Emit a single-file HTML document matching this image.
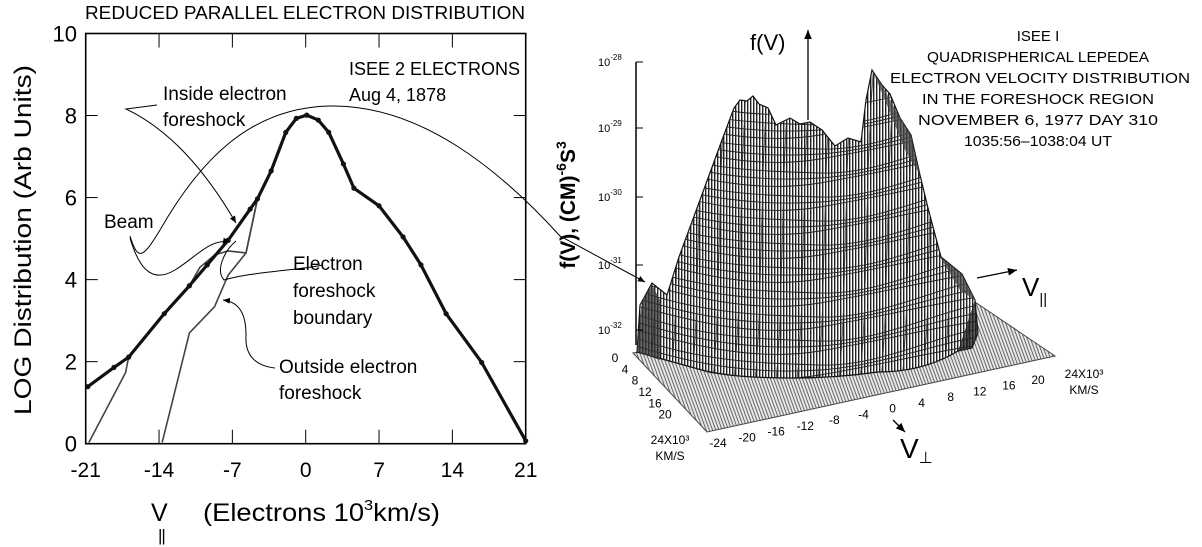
<!DOCTYPE html>
<html><head><meta charset="utf-8">
<style>
html,body{margin:0;padding:0;background:#fff;}
svg{display:block;font-family:"Liberation Sans",sans-serif;}
</style></head>
<body>
<svg id="fig" width="1202" height="547" viewBox="0 0 1202 547">
<defs>
  <pattern id="vlines" width="3" height="6" patternUnits="userSpaceOnUse">
    <rect width="3" height="6" fill="#fff"/><rect width="1.4" height="6" fill="#222"/>
  </pattern>
  <pattern id="plane" width="3" height="3" patternUnits="userSpaceOnUse" patternTransform="rotate(-20)">
    <rect width="3" height="3" fill="#e8e8e8"/><rect width="1" height="3" fill="#666"/>
  </pattern>
  <clipPath id="hillclip"><path id="hillpathc" d=""/></clipPath>
  <marker id="arr" markerWidth="8" markerHeight="8" refX="7" refY="4" orient="auto"><path d="M0,1 L7,4 L0,7 z" fill="#000"/></marker>
</defs>

<!-- LEFT CHART -->
<g id="left">
  <text x="85" y="19" font-size="18" textLength="440" lengthAdjust="spacingAndGlyphs">REDUCED  PARALLEL  ELECTRON  DISTRIBUTION</text>
  <rect x="85.7" y="33.5" width="440" height="410.2" fill="none" stroke="#000" stroke-width="1.6"/>
  <g id="xticks"></g>
  <g id="yticks"></g>
  <text transform="translate(31,240) rotate(-90)" text-anchor="middle" font-size="24" textLength="350" lengthAdjust="spacingAndGlyphs">LOG Distribution (Arb Units)</text>
  <g>
    <text x="151" y="521" font-size="25">V</text>
    <text x="158" y="541" font-size="17" letter-spacing="-1">||</text>
    <text x="203" y="521" font-size="25" textLength="237" lengthAdjust="spacingAndGlyphs">(Electrons 10<tspan font-size="15" dy="-11">3</tspan><tspan dy="11">km/s)</tspan></text>
  </g>
  <g id="series"></g>
  <text x="349" y="75" font-size="18">ISEE 2 ELECTRONS</text>
  <text x="349" y="101" font-size="18">Aug 4, 1878</text>
  <text x="163" y="100" font-size="19">Inside electron</text>
  <text x="163" y="126" font-size="19">foreshock</text>
  <text x="104" y="228" font-size="19">Beam</text>
  <text x="293" y="270" font-size="19">Electron</text>
  <text x="293" y="297" font-size="19">foreshock</text>
  <text x="293" y="324" font-size="19">boundary</text>
  <text x="279" y="373" font-size="19">Outside electron</text>
  <text x="279" y="399" font-size="19">foreshock</text>
  <g fill="none" stroke="#000" stroke-width="1">
    <path d="M157,105 L126,109 C170,130 205,170 236,223" marker-end="url(#arr)"/>
    <path d="M130,238 C138,265 150,285 175,270 C195,258 210,238 230,242" marker-end="url(#arr)"/>
    <path d="M323,265 C300,270 250,272 224,280 C215,270 225,250 236,241"/>
    <path d="M275,368 C250,365 245,350 246,335 C246,315 240,302 223,300" marker-end="url(#arr)"/>
    <path d="M130,236 C138,262 143,258 160,230 C200,160 250,108 329,106 C420,104 500,170 560,236 L645,282" marker-end="url(#arr)"/>
  </g>
</g>

<!-- RIGHT 3D PLOT -->
<g id="right">
  <polygon points="633,353 707,432 1055,356 972,300" fill="url(#plane)" stroke="#444" stroke-width="1"/>
  <g id="hill"></g>
  <line x1="636" y1="62" x2="636" y2="345" stroke="#000" stroke-width="1.5"/>
  <g id="rticks"></g>
  <line x1="808" y1="120" x2="808" y2="30" stroke="#000" stroke-width="1.3" marker-end="url(#arr)"/>
  <text x="750" y="50" font-size="22">f(V)</text>
  <text transform="translate(575,205) rotate(-90)" text-anchor="middle" font-size="21" font-weight="bold">f(V), (CM)<tspan font-size="14" dy="-9">-6</tspan><tspan dy="9">S</tspan><tspan font-size="14" dy="-9">3</tspan></text>
  <g font-size="15" text-anchor="middle">
    <text x="1038" y="41">ISEE I</text>
    <text x="1038" y="62" textLength="222" lengthAdjust="spacingAndGlyphs">QUADRISPHERICAL LEPEDEA</text>
    <text x="1040" y="83" textLength="300" lengthAdjust="spacingAndGlyphs">ELECTRON VELOCITY DISTRIBUTION</text>
    <text x="1038" y="104" textLength="232" lengthAdjust="spacingAndGlyphs">IN THE FORESHOCK REGION</text>
    <text x="1038" y="125" textLength="240" lengthAdjust="spacingAndGlyphs">NOVEMBER 6, 1977  DAY 310</text>
    <text x="1038" y="146" textLength="148" lengthAdjust="spacingAndGlyphs">1035:56–1038:04 UT</text>
  </g>
  <line x1="977" y1="278" x2="1017" y2="270" stroke="#000" stroke-width="1.3" marker-end="url(#arr)"/>
  <text x="1022" y="296" font-size="26">V<tspan font-size="15" dy="8">||</tspan></text>
  <line x1="893" y1="420" x2="905" y2="432" stroke="#000" stroke-width="1.3" marker-end="url(#arr)"/>
  <text x="900" y="458" font-size="28">V<tspan font-size="16" dy="5">⊥</tspan></text>
  <g id="bticks" font-size="12" text-anchor="middle"></g>
</g>

<script>
// ---- Left chart data ----
const xTicks = [-21, -14, -7, 0, 7, 14, 21];
const yTicks = [0, 2, 4, 6, 8, 10];
const insideV = [-20.8,-18.3,-16.9,-13.5,-11.1,-9.4,-7.4,-5.3,-4.6,-3.3,-1.9,-0.9,0.1,1.2,2.2,3.6,4.6,7.0,9.3,11.0,13.4,16.8,21];
const insideL = [1.39,1.86,2.11,3.17,3.85,4.36,4.96,5.72,5.97,6.65,7.59,7.93,8.01,7.89,7.59,6.82,6.23,5.80,5.04,4.36,3.17,1.98,0.07];
const boundaryV = [-20.7,-17.2,-16.9,-13.5,-11.1,-10.1,-8.7,-7.4,-5.7,-4.6];
const boundaryL = [0.03,1.73,2.11,3.17,3.85,4.30,4.60,4.70,4.65,5.97];
const outsideV = [-13.7,-11.1,-8.7,-7.4,-5.7,-4.6];
const outsideL = [0.03,2.70,3.34,4.11,4.65,5.97];
// ---- Right plot axis labels ----
const fvTicks = ["-28","-29","-30","-31","-32"];
const vperpTicks = ["-24","-20","-16","-12","-8","-4","0","4","8","12","16","20"];
const vparTicks = ["0","4","8","12","16","20"];

const NS = "http://www.w3.org/2000/svg";
function mk(tag, attrs, parent){const e=document.createElementNS(NS,tag);for(const k in attrs)e.setAttribute(k,attrs[k]);parent.appendChild(e);return e;}
const X0=85.7,X1=525.7,Y0=443.7,Y1=33.5;
const sx = v => X0 + (v+21)/42*(X1-X0);
const sy = l => Y0 - l/10*(Y0-Y1);

const xg=document.getElementById('xticks');
xTicks.forEach(v=>{
  const l=mk('line',{x1:sx(v),x2:sx(v),y1:Y0,y2:Y0-14,stroke:'#000','stroke-width':1},xg);
  
  
  const l2=mk('line',{x1:sx(v),x2:sx(v),y1:Y1,y2:Y1+14,stroke:'#000','stroke-width':1},xg);
  
  
  const t=mk('text',{x:sx(v),y:477,'font-size':21,'text-anchor':'middle'},xg);
  t.textContent=v;
  
  
});
const yg=document.getElementById('yticks');
yTicks.forEach(v=>{
  const l=mk('line',{x1:X0,x2:X0+12,y1:sy(v),y2:sy(v),stroke:'#000','stroke-width':1},yg);
  
  
  const l2=mk('line',{x1:X1,x2:X1-12,y1:sy(v),y2:sy(v),stroke:'#000','stroke-width':1},yg);
  
  
  const t=mk('text',{x:77,y:sy(v)+8,'font-size':22,'text-anchor':'end'},yg);
  t.textContent=v;
  
  
});
const sg=document.getElementById('series');
function series(vs,ls,w,col,name,dots){
  const p=mk('polyline',{points:vs.map((v,i)=>sx(v)+','+sy(ls[i])).join(' '),fill:'none',stroke:col,'stroke-width':w,'stroke-linejoin':'round'},sg);
  
  
  if(dots) vs.forEach((v,i)=>{
    const c=mk('circle',{cx:sx(v),cy:sy(ls[i]),r:2.6,fill:'#111'},sg);
    
    
  });
}
series(boundaryV,boundaryL,1.6,'#444','boundary-line',false);
series(outsideV,outsideL,1.6,'#444','outside-foreshock-line',false);
series(insideV,insideL,3.2,'#111','inside-foreshock-line',true);

// ---- Right: axis ticks ----
const rt=document.getElementById('rticks');
const fvY=[62,128,197,265,330];
fvTicks.forEach((s,i)=>{
  const l=mk('line',{x1:636,x2:643,y1:fvY[i],y2:fvY[i],stroke:'#000'},rt);
  
  
  const t=mk('text',{x:598,y:fvY[i]+4,'font-size':11},rt);
  
  
  const a=mk('tspan',{},t); a.textContent='10';
  const b=mk('tspan',{'font-size':8,dy:-6},t); b.textContent=s;
});
const bt=document.getElementById('bticks');
vperpTicks.forEach((s,i)=>{
  const f=i/11;
  const t=mk('text',{x:718+f*(1038-718),y:447-f*(447-384),'font-size':12},bt);
  t.textContent=s;
  
  
});
vparTicks.forEach((s,i)=>{
  const f=i/6;
  const t=mk('text',{x:615+f*(675-615),y:362+f*(430-362),'font-size':12},bt);
  t.textContent=s;
  
  
});
[[670,444,'24X10³'],[670,460,'KM/S'],[1084,378,'24X10³'],[1084,394,'KM/S']].forEach(a=>{
  const t=mk('text',{x:a[0],y:a[1],'font-size':12},bt);
  t.textContent=a[2];
  
  
});

// ---- Right: surface (decorative outline) ----
const hill=document.getElementById('hill');
const hd="M637,352 L640,305 L652,283 L667,295 L679,257 L700,200 L722,140 L734,108 L740,100 L747,101 L753,96 L759,104 L768,108 L776,125 L790,118 L800,124 L810,122 L822,130 L835,146 L848,138 L861,142 L866,100 L872,70 L882,85 L890,94 L900,118 L911,135 L920,175 L928,208 L941,257 L962,274 L975,300 L978,333 L972,348 L958,351 C930,368 900,372 878,372 C850,376 820,378 793,378 C760,378 730,376 709,372 Z";
document.getElementById('hillpathc').setAttribute('d',hd);
const hp=mk('path',{d:hd,fill:'url(#vlines)',stroke:'#111','stroke-width':1.2},hill);


const cg=mk('g',{'clip-path':'url(#hillclip)',fill:'none',stroke:'#222','stroke-width':0.9},hill);


for(let k=0;k<34;k++){
  const dy=k*8, w=(k%3)*3;
  mk('path',{d:`M630,${352-dy} C700,${372-dy+w} 760,${385-dy-w} 820,${375-dy+w} S940,${350-dy} 980,${345-dy}`},cg);
}
for(let k=0;k<16;k++){
  const x=650+k*21;
  mk('path',{d:`M${x},380 C${x+8},300 ${x+4},200 ${x+14},60`,stroke:'#333','stroke-width':0.7},cg);
}
const dk=[["M637,352 L642,300 L652,285 L660,300 L660,360 Z",'#333'],["M958,351 L975,300 L978,333 L972,348 Z",'#222'],["M940,257 L962,274 L975,300 L960,290 Z",'#444'],["M872,70 L882,85 L900,118 L911,135 L920,175 L905,150 L885,100 Z",'#444']];
dk.forEach(a=>{
  const p=mk('path',{d:a[0],fill:a[1],opacity:0.75},hill);
  
  
});
</script>
</svg>
</body></html>
